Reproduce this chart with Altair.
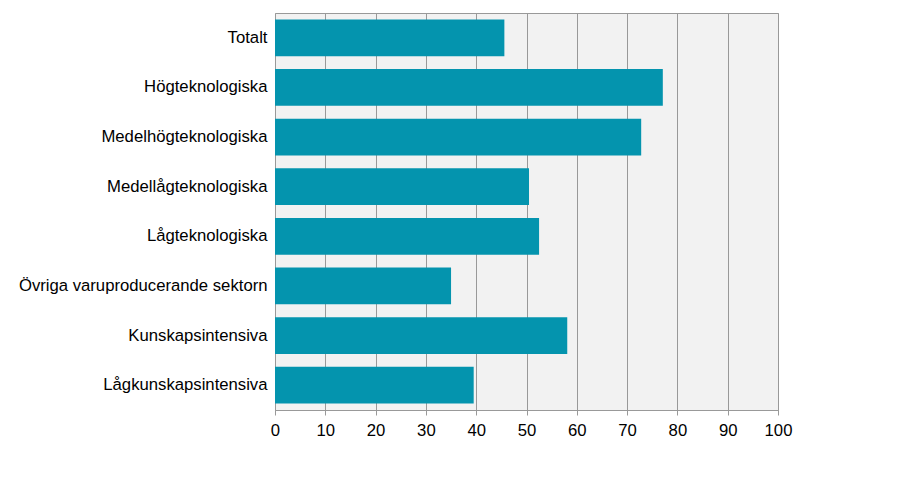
import altair as alt
import pandas as pd

categories = [
    "Totalt",
    "Högteknologiska",
    "Medelhögteknologiska",
    "Medellågteknologiska",
    "Lågteknologiska",
    "Övriga varuproducerande sektorn",
    "Kunskapsintensiva",
    "Lågkunskapsintensiva",
]
values = [45.6, 77.1, 72.8, 50.5, 52.5, 35.0, 58.1, 39.5]
x_ticks = [0, 10, 20, 30, 40, 50, 60, 70, 80, 90, 100]

df = pd.DataFrame({"kategori": categories, "varde": values})

FONT = "Liberation Sans"

chart = (
    alt.Chart(df)
    .mark_bar(color="#0494AE")
    .encode(
        y=alt.Y(
            "kategori:N",
            sort=categories,
            title=None,
            scale=alt.Scale(paddingInner=0.26, paddingOuter=0.13),
            axis=alt.Axis(
                ticks=False,
                domain=False,
                labelFont=FONT,
                labelFontSize=16.7,
                labelColor="#000000",
                labelPadding=8,
                labelLimit=400,
            ),
        ),
        x=alt.X(
            "varde:Q",
            title=None,
            scale=alt.Scale(domain=[0, 100], nice=False),
            axis=alt.Axis(
                values=x_ticks,
                grid=True,
                gridColor="#999999",
                gridWidth=1,
                domain=True,
                domainColor="#999999",
                ticks=True,
                tickColor="#999999",
                tickSize=5,
                labelFlush=False,
                labelFont=FONT,
                labelFontSize=16.7,
                labelColor="#000000",
                labelPadding=7,
            ),
        ),
    )
    .properties(
        width=503,
        height=397,
        background="#FFFFFF",
        autosize=alt.AutoSizeParams(type="none"),
        padding={"left": 275, "top": 13, "right": 138, "bottom": 68},
    )
    .configure_view(fill="#F2F2F2", stroke="#999999", strokeWidth=1)
)

chart.save("out.html", embed_options={"renderer": "svg", "actions": False})
